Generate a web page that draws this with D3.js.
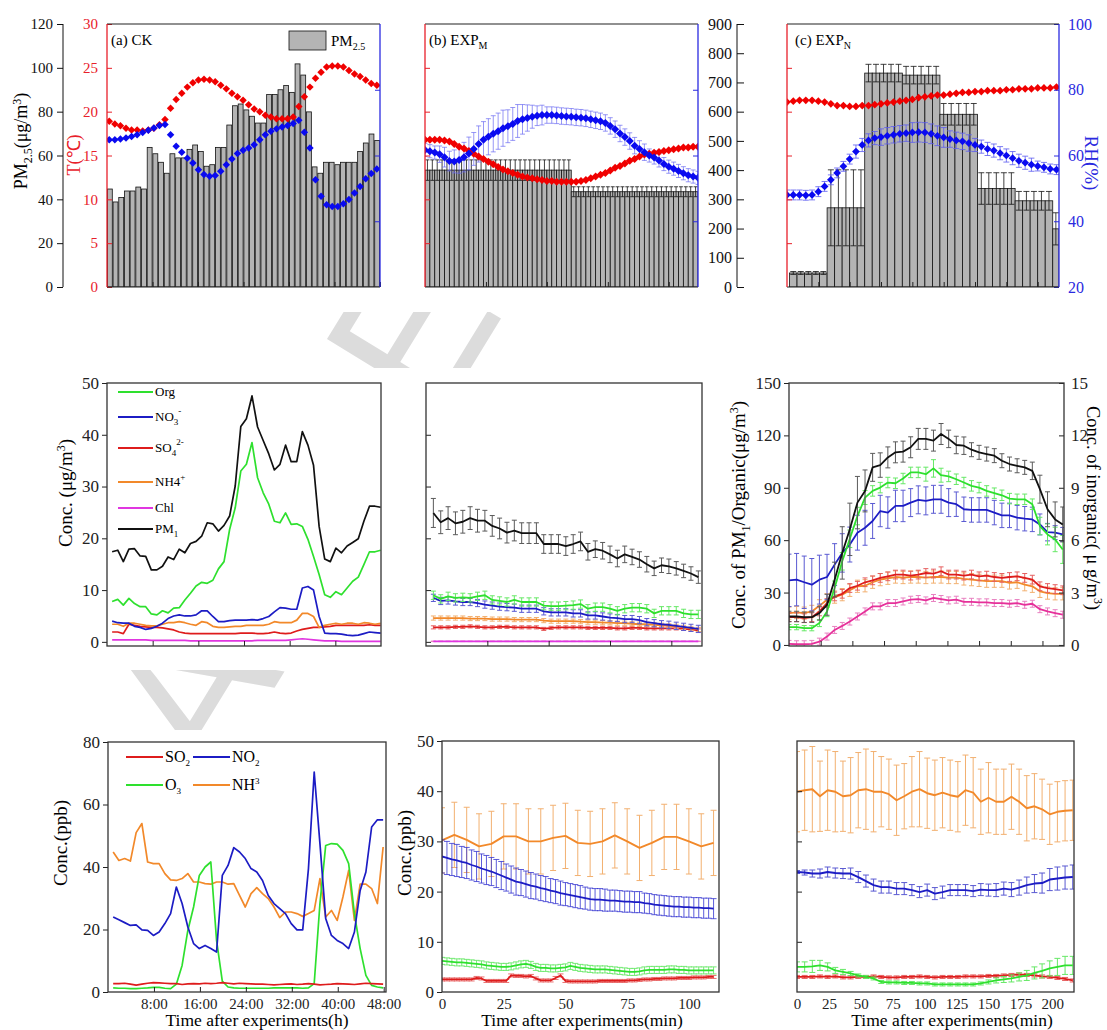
<!DOCTYPE html>
<html>
<head>
<meta charset="utf-8">
<script src="https://cdn.jsdelivr.net/npm/d3@7"></script>
<style>body{margin:0;background:#fff}</style>
</head>
<body>
<script>
// ---------------- data ----------------
// (a) CK: hourly PM2.5 bars, T and RH diamonds
const ckPM25 = [44.7,38.8,40.8,43.8,43.8,45.6,44.7,63.7,60.8,56.9,51.9,60.8,58.9,58.9,62.8,64.8,61.8,55.1,55.8,63.7,63.7,73.9,82.7,83.5,80.8,77.9,74.8,74.8,87.8,87.8,90.0,91.9,88.8,101.8,96.7,79.9,54.8,51.9,56.9,56.9,55.8,56.9,56.9,56.9,61.8,65.7,69.8,66.8];
const ckT = [18.9,18.6,18.4,18.1,17.9,17.9,17.8,17.9,18.1,18.5,19.1,20.4,21.4,22.1,22.8,23.3,23.6,23.7,23.6,23.4,23.0,22.6,22.1,21.7,21.3,20.8,20.3,20.0,19.6,19.4,19.2,19.2,19.2,19.4,20.6,21.7,22.8,23.8,24.5,25.1,25.2,25.2,25.1,24.7,24.3,24.0,23.6,23.2,23.0];
const ckRH = [64.8,64.8,65.0,65.3,65.8,66.3,67.0,67.7,68.4,69.1,69.4,66.3,62.8,61.0,59.2,57.7,55.7,54.2,53.7,53.9,55.2,57.2,58.9,60.6,61.6,62.3,63.3,64.8,66.3,67.4,68.1,68.7,69.1,69.7,70.7,67.1,62.3,52.6,47.6,45.0,44.5,44.5,45.3,46.6,48.6,50.6,52.9,54.5,55.9];
const ckMetStart = 0.4, ckMetStep = 0.98;

// (b) EXP_M: PM2.5 groups, T and RH every 2 min
const expMBarStart = [0, 60];
const expMBarEnd = [60, 112];
const expMBarValue = [400, 326];
const expMBarErr = [35, 17];
const expMStep = 2;
const expMT = [16.8,16.8,16.8,16.8,16.7,16.6,16.3,16.0,15.8,15.5,15.2,14.9,14.6,14.3,14.0,13.7,13.4,13.2,13.0,12.8,12.6,12.5,12.4,12.3,12.2,12.1,12.1,12.0,12.0,12.0,12.0,12.0,12.1,12.2,12.4,12.6,12.8,13.0,13.3,13.6,13.8,14.1,14.4,14.6,14.9,15.1,15.2,15.3,15.4,15.5,15.6,15.7,15.8,15.9,15.9,16.0,16.0];
const expMRH = [61.7,61.3,60.9,60.4,59.5,58.3,58.2,58.6,59.5,60.6,62.0,63.5,64.8,65.7,66.6,67.4,68.3,68.9,69.6,70.5,71.0,71.4,71.8,72.1,72.3,72.3,72.3,72.2,72.0,71.9,71.8,71.6,71.5,71.3,71.0,70.7,70.4,69.9,69.0,68.0,66.7,65.6,64.4,63.0,62.0,61.0,60.0,59.4,58.5,57.4,56.6,56.0,55.3,54.6,54.0,53.6,53.2];
const expMRHErr = [2,2,2,2.5,3,3,3.5,4,4.5,5,5,5.5,5.5,5.5,5.5,5.5,5.5,5,5,5,4.5,4,3.5,3,3,2.5,2.5,2.5,2.5,2.5,2.5,2.5,2.5,2.5,2.5,2.5,2.5,2.5,2.5,2.5,2.5,2.5,2.5,2.5,2.5,2.5,2,2,2,2,2,2,2,2,2,2,2];

// (c) EXP_N: PM2.5 groups, T and RH every 5 min
const expNBarStart = [2, 32, 62, 92, 122, 152, 182, 212];
const expNBarEnd = [32, 62, 92, 122, 152, 182, 212, 217];
const expNBarValue = [48, 271, 732, 725, 591, 337, 295, 199];
const expNBarErr = [5, 130, 30, 30, 37, 54, 32, 55];
const expNMetStep = 5;
const expNT = [21.1,21.2,21.3,21.3,21.3,21.2,21.1,20.9,20.7,20.7,20.6,20.6,20.7,20.7,20.8,20.9,21.0,21.1,21.2,21.3,21.4,21.6,21.7,21.8,21.9,21.9,22.0,22.1,22.2,22.2,22.3,22.3,22.4,22.4,22.4,22.5,22.5,22.6,22.6,22.6,22.7,22.7,22.7,22.8];
const expNRH = [48.0,48.0,48.0,47.9,48.0,49.0,50.6,52.6,54.7,56.7,58.9,61.2,63.2,64.6,65.3,65.6,66.0,66.3,66.6,66.8,67.0,67.1,67.0,66.6,66.0,65.5,65.0,64.6,64.3,63.8,63.2,62.7,62.0,61.5,60.7,60.0,59.2,58.4,57.8,57.2,56.8,56.4,55.9,55.7];
const expNRHErr = [1.5,1.5,1.5,1.5,1.5,1.5,1.5,1.5,1.5,1.5,1.5,2,2,2,2,2.5,2.5,2.5,2.5,2.5,3,3,3,3,3,3,2.5,2.5,2.5,2.5,2,2,2,2,2,2,2,2,2,2,1.5,1.5,1.5,1.5];

// (d) CK aerosol composition, hourly
const ckCompStart = 0.9, ckCompStep = 0.98;
const pm1CK = [17.4,17.7,15.5,17.9,18.0,16.6,16.5,13.9,13.9,14.6,16.4,15.9,17.9,17.2,19.0,19.4,20.4,23.0,22.8,21.4,22.5,24.3,30.1,41.6,43.1,47.5,41.5,38.9,36.3,33.2,34.3,38.0,34.8,34.8,40.6,38.0,34.1,22.3,16.0,15.5,18.1,17.2,18.5,19.2,19.9,23.3,26.2,26.2,26.0];
const orgCK = [7.8,8.2,7.1,8.4,7.4,6.8,6.8,5.4,5.2,6.0,5.6,6.5,6.6,8.1,9.4,10.8,11.5,11.3,11.9,14.1,15.5,21.7,25.9,33.0,34.3,38.5,31.7,28.8,26.6,23.3,23.0,24.9,22.7,22.8,22.3,19.8,16.5,13.0,9.1,8.6,9.7,9.1,10.4,11.7,12.5,14.9,17.4,17.4,17.7];
const no3CK = [4.0,3.7,3.6,3.6,3.0,2.8,2.4,2.6,3.0,3.6,4.5,5.0,5.2,5.0,5.0,5.2,6.0,6.0,4.9,3.9,3.9,4.1,4.2,4.2,4.2,4.3,4.2,4.5,4.9,5.8,6.6,6.5,6.3,6.3,10.4,10.7,10.0,4.9,1.7,1.6,1.6,1.5,1.3,1.2,1.3,1.6,1.9,1.8,1.7];
const so4CK = [1.9,1.9,1.6,3.4,3.2,3.0,2.9,2.8,2.8,2.7,2.5,2.3,1.9,1.7,1.6,1.6,1.6,1.6,1.6,1.6,1.6,1.6,1.6,1.7,1.7,1.7,1.6,1.6,1.7,1.9,1.7,1.6,1.7,2.1,2.4,2.6,2.8,2.8,2.9,3.0,3.2,3.2,3.2,3.2,3.2,3.2,3.3,3.2,3.2];
const nh4CK = [3.4,3.4,3.0,3.6,3.6,3.4,3.2,3.1,3.1,3.4,3.7,3.7,3.9,3.7,3.4,3.2,3.9,3.7,3.0,2.8,2.8,2.9,3.0,3.0,3.2,3.2,3.2,3.2,3.4,3.9,3.7,3.7,3.7,4.2,5.5,5.5,4.9,2.8,3.2,3.4,3.6,3.4,3.6,3.6,3.4,3.7,3.6,3.4,3.6];
const chlCK = [0.4,0.4,0.4,0.4,0.4,0.4,0.4,0.3,0.3,0.3,0.3,0.3,0.3,0.3,0.2,0.2,0.2,0.2,0.2,0.2,0.2,0.2,0.2,0.2,0.2,0.2,0.3,0.3,0.3,0.3,0.3,0.3,0.4,0.5,0.6,0.5,0.4,0.3,0.2,0.2,0.2,0.1,0.1,0.1,0.1,0.1,0.1,0.1,0.1];

// (e) EXP_M aerosol composition, every 3 min
const expMCompStart = 3, expMCompStep = 3;
const pm1M = [24.9,23.1,23.9,22.9,23.2,23.9,23.4,23.4,22.4,21.9,21.1,21.5,21.0,21.0,21.0,18.9,18.9,18.9,18.5,18.9,19.4,17.4,17.9,17.6,16.9,16.1,16.9,16.4,15.9,15.0,14.2,14.8,14.6,14.2,13.7,13.2,12.5];
const pm1MErr = [2.8,2.2,2.2,2.2,2.2,2.2,2.2,2.0,2.0,2.0,2.0,2.0,2.0,2.0,2.0,1.8,1.8,1.8,1.8,1.8,1.8,1.6,1.6,1.6,1.6,1.6,1.6,1.5,1.5,1.5,1.4,1.4,1.4,1.3,1.3,1.3,1.2];
const orgM = [9.0,8.3,8.8,8.5,8.6,8.5,8.8,9.0,8.1,7.9,7.7,8.1,7.7,7.7,7.7,7.0,6.9,6.9,7.0,7.1,7.3,6.4,6.7,6.7,6.4,6.0,6.4,6.6,6.6,6.4,5.5,6.0,6.0,6.0,5.5,5.3,5.3];
const no3M = [8.5,7.9,8.0,7.8,7.7,7.7,7.5,7.2,7.0,6.8,6.7,6.6,6.4,6.4,6.4,5.9,5.7,5.7,5.7,5.5,5.5,5.1,5.1,4.9,4.7,4.6,4.4,4.4,4.2,3.8,3.6,3.4,3.3,3.1,2.9,2.7,2.5];
const nh4M = [4.6,4.6,4.6,4.6,4.6,4.5,4.5,4.5,4.4,4.4,4.4,4.3,4.3,4.3,4.3,4.1,4.0,4.0,4.0,4.0,3.9,3.8,3.8,3.7,3.7,3.6,3.6,3.5,3.4,3.4,3.3,3.2,3.1,3.0,2.8,2.6,2.4];
const so4M = [2.8,2.8,2.8,2.9,2.9,3.0,2.9,2.8,2.8,2.9,2.9,2.8,2.8,2.8,2.8,2.5,2.7,2.8,2.8,2.8,2.8,2.7,2.7,2.7,2.7,2.6,2.6,2.7,2.7,2.6,2.6,2.6,2.6,2.6,2.5,2.4,2.2];
const chlM = [0.1,0.1,0.1,0.1,0.1,0.1,0.1,0.1,0.1,0.1,0.1,0.1,0.1,0.1,0.1,0.1,0.1,0.1,0.1,0.1,0.1,0.1,0.1,0.1,0.1,0.1,0.1,0.1,0.1,0.1,0.1,0.1,0.1,0.1,0.1,0.1,0.1];

// (f) EXP_N aerosol composition, every 6 min (PM1/Org left axis, inorganic right axis)
const expNCompStep = 6;
const pm1N = [16.3,16.3,15.9,15.9,18.2,23.0,37.4,52.7,66.2,81.5,88.2,101.7,103.0,107.4,110.3,110.7,113.2,118.0,118.0,117.0,120.8,118.0,114.5,114.1,111.8,110.3,109.3,108.4,105.5,103.6,102.6,101.7,99.7,89.2,77.7,71.9,69.0];
const pm1NErr = [3,3,3,3,4,6,10,15,15,15,12,8,7,6,6,6,6,6,6,6,6,5,5,5,4,4,4,4,4,4,4,4,5,8,10,10,10];
const orgN = [10.2,10.2,9.6,9.6,12.5,19.2,32.6,47.9,60.8,73.8,84.4,88.2,90.1,93.0,92.6,95.3,98.8,98.8,97.8,101.1,97.2,96.5,94.9,93.0,91.1,90.1,88.2,86.9,85.7,83.8,83.4,83.4,80.6,68.1,63.3,60.4,54.7];
const orgNErr = [1.5,1.5,1.5,1.5,2,3,4,5,5,5,4,3,3,3,3,3,3,3,4,5,4,3,3,3,3,3,3,3,3,3,3,3,3,5,6,7,8];
const no3N = [3.70,3.74,3.59,3.45,3.74,3.89,4.60,5.27,5.75,6.43,6.71,7.10,7.67,7.58,7.96,7.96,8.15,8.31,8.25,8.34,8.34,8.15,8.06,7.77,7.73,7.73,7.73,7.58,7.42,7.42,7.29,7.23,7.19,6.90,6.46,6.43,6.33];
const no3NErr = [1.5,1.5,1.5,1.5,1.4,1.3,1.2,1.1,1.0,1.0,1.0,1.0,0.9,0.9,0.9,0.9,0.8,0.8,0.8,0.8,0.8,0.8,0.7,0.7,0.7,0.7,0.7,0.7,0.7,0.7,0.7,0.7,0.7,0.6,0.5,0.4,0.4];
const so4N = [1.59,1.59,1.53,1.59,1.92,2.40,2.78,2.93,3.26,3.39,3.59,3.70,3.84,3.93,4.03,4.03,3.97,4.03,4.12,4.09,4.22,4.03,4.03,3.97,4.03,3.93,3.97,3.89,3.84,3.89,3.93,3.84,3.74,3.36,3.26,3.20,3.13];
const nh4N = [1.82,1.86,1.82,1.92,2.24,2.59,2.74,2.88,3.13,3.36,3.39,3.59,3.74,3.82,3.89,3.86,3.89,3.89,3.86,3.89,3.89,3.86,3.86,3.78,3.74,3.70,3.65,3.65,3.65,3.55,3.59,3.45,3.36,3.07,2.97,2.93,2.93];
const chlN = [0.06,0.04,0.04,0.06,0.19,0.48,0.86,1.09,1.34,1.63,1.92,2.21,2.21,2.40,2.40,2.49,2.59,2.63,2.55,2.69,2.63,2.55,2.59,2.47,2.47,2.44,2.44,2.40,2.40,2.36,2.40,2.30,2.36,2.05,1.92,1.82,1.73];

// (g) CK gases, hourly
const ckGasStart = 0.9, ckGasStep = 1;
const so2CK = [2.7,2.7,2.8,2.5,2.2,2.5,2.8,3.0,2.9,2.8,2.7,2.7,2.4,2.6,2.7,2.6,2.8,2.7,2.8,3.0,2.8,2.6,2.8,2.7,2.6,2.5,2.5,2.4,2.3,2.4,2.5,2.6,2.4,2.5,2.7,2.5,2.3,2.4,2.5,2.7,2.6,2.5,2.4,2.6,2.8,2.7,2.6,2.5];
const no2CK = [24.0,23.1,22.2,21.3,21.5,19.9,19.7,18.1,19.2,21.9,25.1,33.6,28.3,20.8,15.5,13.9,14.9,13.9,12.8,37.3,40.5,46.2,44.8,42.7,39.5,38.4,35.7,30.9,28.3,26.7,25.1,21.9,19.9,19.9,39.5,70.4,47.5,23.5,18.1,16.5,15.5,13.9,19.2,32.5,38.4,52.8,55.1,55.1];
const o3CK = [1.3,1.2,1.2,1.1,1.1,1.2,1.3,1.5,1.5,1.2,1.1,2.5,8.5,19.7,27.2,37.3,40.0,41.6,16.5,3.5,1.6,1.3,1.2,1.2,1.2,1.2,1.2,1.2,1.3,1.3,1.3,1.3,1.3,1.2,1.3,2.7,28.3,46.9,47.5,47.3,45.3,41.1,25.1,13.9,5.3,2.1,1.6,1.3];
const nh3CK = [44.8,42.1,42.7,41.9,51.0,53.9,41.6,41.1,41.1,37.9,35.9,35.7,36.3,37.9,35.2,35.2,34.7,34.5,35.2,35.2,34.5,34.7,30.9,27.2,31.5,33.4,31.5,29.9,27.2,23.8,25.6,25.6,25.1,24.2,25.1,26.1,36.3,24.0,26.1,22.9,30.4,38.9,22.9,34.5,34.5,33.1,28.3,46.4];

// (h) EXP_M gases
const nh3MStep = 5;
const nh3M = [30.2,31.3,30.3,29.0,29.5,31.0,31.0,30.0,30.0,30.7,31.1,29.7,29.5,30.0,31.2,30.0,28.7,29.7,30.9,30.9,30.0,29.0,29.7];
const nh3MErr = 6.5;
const gasMStep = 2;
const no2M = [27.0,26.7,26.4,26.2,25.9,25.7,25.3,25.0,24.6,24.3,24.0,23.6,23.2,22.8,22.4,22.0,21.8,21.5,21.2,21.0,20.7,20.5,20.2,20.0,19.7,19.5,19.3,19.1,18.9,18.7,18.5,18.4,18.4,18.3,18.2,18.2,18.1,18.0,18.0,17.9,17.9,17.7,17.6,17.4,17.3,17.2,17.1,17.0,17.0,16.9,16.9,16.8,16.8,16.7,16.7,16.6];
const no2MErr = [3.3,3.3,3.2,3.2,3.1,3.1,3.0,3.0,2.9,2.9,2.8,2.8,2.8,2.7,2.7,2.7,2.6,2.6,2.6,2.5,2.5,2.5,2.4,2.4,2.4,2.3,2.3,2.3,2.3,2.2,2.2,2.2,2.2,2.2,2.1,2.1,2.1,2.1,2.1,2.1,2.1,2.0,2.0,2.0,2.0,2.0,2.0,2.0,2.0,2.0,2.0,2.0,2.0,2.0,2.0,2.0];
const o3M = [6.2,6.1,6.0,5.9,5.9,5.8,5.7,5.6,5.5,5.3,5.2,5.1,5.0,5.0,5.1,5.3,5.5,5.6,5.4,5.0,4.8,4.8,4.7,4.7,4.8,4.9,5.2,5.0,4.8,4.7,4.6,4.5,4.5,4.5,4.4,4.3,4.2,4.1,4.0,4.0,4.1,4.3,4.4,4.4,4.4,4.4,4.5,4.5,4.4,4.4,4.3,4.3,4.3,4.3,4.3,4.3];
const o3MErr = 0.7;
const so2M = [2.5,2.5,2.5,2.5,2.5,2.5,2.5,2.8,2.7,2.2,2.2,2.2,2.2,2.2,3.3,3.2,3.2,3.1,3.2,2.7,2.3,2.3,2.3,2.8,3.3,2.2,2.1,2.1,2.1,2.1,2.1,2.1,2.2,2.2,2.2,2.2,2.2,2.2,2.3,2.3,2.4,2.5,2.5,2.6,2.6,2.7,2.7,2.7,2.8,2.8,2.8,2.9,2.9,2.9,3.0,3.0];
const so2MErr = 0.3;

// (i) EXP_N gases, every 6 min
const gasNStep = 6;
const nh3N = [39.9,40.2,40.4,39.0,40.2,39.9,39.0,39.2,40.2,40.4,39.9,39.9,39.4,38.2,39.0,39.9,40.4,39.6,39.2,39.7,39.2,38.9,40.2,39.7,37.9,38.7,37.9,37.9,38.9,37.9,36.6,37.0,36.4,35.4,35.9,36.1,36.2];
const nh3NErr = [8,8,8.5,7,8,8,7,7.5,7.5,8,8,7,7,7,6.5,7,7.5,7,7,7,7,7,7,7,6.5,7,6.5,6.5,6.5,6.5,6.5,6.5,6,6,6,6,6];
const no2N = [23.9,23.8,23.6,23.6,23.9,23.7,23.6,23.6,22.9,22.1,21.3,20.9,20.9,20.6,20.6,20.3,19.9,20.3,19.6,19.9,20.3,20.3,20.3,20.1,20.4,20.3,20.3,20.6,20.4,20.8,21.3,21.6,21.7,22.4,22.6,22.8,22.9];
const no2NErr = [0.3,0.5,0.7,0.9,1.0,1.0,1.0,1.1,1.1,1.2,1.2,1.2,1.2,1.2,1.2,1.1,1.1,1.2,1.2,1.2,1.1,1.1,1.1,1.1,1.2,1.2,1.3,1.3,1.4,1.5,1.6,1.8,2.0,2.2,2.3,2.3,2.4];
const o3N = [5.0,5.0,5.1,5.3,5.0,4.3,4.0,3.7,3.3,3.0,2.7,2.0,1.9,1.9,1.8,1.8,1.7,1.7,1.5,1.5,1.5,1.5,1.5,1.5,1.7,2.0,2.3,2.5,2.7,3.0,3.3,3.8,4.2,4.7,5.0,5.3,5.3];
const o3NErr = [1.0,1.0,1.2,1.0,0.8,0.6,0.5,0.4,0.3,0.3,0.3,0.3,0.3,0.3,0.3,0.3,0.3,0.3,0.3,0.3,0.3,0.3,0.3,0.3,0.3,0.4,0.5,0.6,0.7,0.8,1.0,1.2,1.4,1.5,1.7,1.8,1.8];
const so2N = [3.0,3.0,3.0,3.1,3.0,3.1,2.9,2.9,3.0,3.0,3.1,3.0,2.9,2.9,3.0,3.0,3.1,3.0,2.9,3.0,3.0,3.0,3.1,3.1,3.1,3.2,3.2,3.3,3.4,3.5,3.4,3.3,3.1,3.0,2.8,2.6,2.3];

// ticks
const pmTicksA = [0,20,40,60,80,100,120];
const tTicks = [0,5,10,15,20,25,30];
const rhTicks = [20,40,60,80,100];
const pmTicksBC = [0,100,200,300,400,500,600,700,800,900];
const hourTicks = [8,16,24,32,40,48];
const hourLabels = ["8:00","16:00","24:00","32:00","40:00","48:00"];
const minTicksM = [0,25,50,75,100];
const minTicksN = [0,25,50,75,100,125,150,175,200];
const concTicks = [0,10,20,30,40,50];
const ppbTicksCK = [0,20,40,60,80];
const pm1TicksN = [0,30,60,90,120,150];
const inorgTicksN = [0,3,6,9,12,15];

// ---------------- drawing ----------------
const F = "'Liberation Serif','Times New Roman',Times,serif";
const RED = "#f00000", BLUE = "#0a0af0", AXRED = "#e8202a", AXBLUE = "#2a2ae0";
const C = {org:"#2ee02e", no3:"#1c1cc4", so4:"#de1c1c", nh4:"#f2892a", chl:"#e036e0", chlN:"#e6309a", pm1:"#111111"};
const EC = {org:"#66e866", no3:"#5a5ad2", so4:"#e66060", nh4:"#f2b070", chl:"#e880c0", pm1:"#5a5a5a"};

const svg = d3.select("body").append("svg").attr("width", 1107).attr("height", 1030)
  .attr("font-family", F);

// watermark behind the panels, only the gaps between rows show it
svg.append("text").attr("transform", "translate(215,785) rotate(-58.5)")
  .attr("font-family", "'Liberation Sans',Arial,sans-serif").attr("font-size", 200)
  .attr("fill", "#dcdcdc").text("ACCE");
[[0,312],[368,302],[730,300]].forEach(r => {
  svg.append("rect").attr("x", 0).attr("y", r[0]).attr("width", 1107).attr("height", r[1]).attr("fill", "#fff");
});

const boxes = {
  a:{x:107,y:24,w:273,h:263}, b:{x:425,y:24,w:273,h:263}, c:{x:787,y:24,w:272,h:263},
  d:{x:107,y:383,w:274,h:263}, e:{x:426,y:383,w:276,h:263}, f:{x:789,y:383,w:275,h:263},
  g:{x:108,y:742,w:278,h:250}, h:{x:442,y:741,w:277,h:251}, i:{x:797,y:741,w:277,h:251}
};

function panel(key) {
  const b = boxes[key];
  const g = svg.append("g").attr("transform", `translate(${b.x},${b.y})`);
  g.append("clipPath").attr("id", "clip-" + key).append("rect").attr("width", b.w).attr("height", b.h);
  const plot = g.append("g").attr("clip-path", `url(#clip-${key})`);
  return {g, plot, b};
}

function styleAxis(sel, color, size) {
  sel.attr("font-family", F).attr("font-size", size);
  sel.select(".domain").remove();
  sel.selectAll(".tick line").attr("stroke", color).attr("stroke-width", 1);
  sel.selectAll(".tick text").attr("fill", color);
  return sel;
}

function diamonds(g, xs, ys, t0, step, vals, color, size) {
  g.append("g").selectAll("path").data(vals).join("path")
    .attr("d", d3.symbol(d3.symbolSquare, size))
    .attr("transform", (d, i) => `translate(${xs(t0 + i * step)},${ys(d)}) rotate(45)`)
    .attr("fill", color);
}

function errorBars(g, xs, ys, t0, step, vals, errs, color, cap, width) {
  const eg = g.append("g").attr("stroke", color).attr("stroke-width", width || 0.8).attr("fill", "none");
  vals.forEach((v, i) => {
    const e = Array.isArray(errs) ? errs[i] : errs;
    const cx = xs(t0 + i * step), y1 = ys(v + e), y2 = ys(v - e);
    eg.append("line").attr("x1", cx).attr("x2", cx).attr("y1", y1).attr("y2", y2);
    eg.append("line").attr("x1", cx - cap).attr("x2", cx + cap).attr("y1", y1).attr("y2", y1);
    eg.append("line").attr("x1", cx - cap).attr("x2", cx + cap).attr("y1", y2).attr("y2", y2);
  });
}

function seriesLine(g, xs, ys, t0, step, vals, color, width) {
  g.append("path").datum(vals).attr("fill", "none").attr("stroke", color)
    .attr("stroke-width", width || 1.6).attr("stroke-linejoin", "round")
    .attr("d", d3.line().x((d, i) => xs(t0 + i * step)).y(d => ys(d)));
}

function groupBars(g, xs, ys, starts, ends, values, errs, sub, cap) {
  const base = ys.range()[0];
  starts.forEach((s, k) => {
    for (let t = s; t < ends[k] - 0.01; t += sub) {
      const w = Math.min(sub, ends[k] - t);
      const x0 = xs(t), x1 = xs(t + w), cx = (x0 + x1) / 2;
      g.append("rect").attr("x", x0).attr("width", x1 - x0).attr("y", ys(values[k]))
        .attr("height", base - ys(values[k])).attr("fill", "#b4b4b4").attr("stroke", "#111").attr("stroke-width", 0.8);
      const y1 = ys(values[k] + errs[k]), y2 = ys(values[k] - errs[k]);
      g.append("line").attr("x1", cx).attr("x2", cx).attr("y1", y1).attr("y2", y2).attr("stroke", "#111").attr("stroke-width", 0.8);
      [y1, y2].forEach(y => g.append("line").attr("x1", cx - cap).attr("x2", cx + cap).attr("y1", y).attr("y2", y)
        .attr("stroke", "#111").attr("stroke-width", 0.8));
    }
  });
}

function topFrame(g, b) {
  g.append("line").attr("x1", 0).attr("x2", b.w).attr("y1", 0).attr("y2", 0).attr("stroke", "#222").attr("stroke-width", 1.2);
  g.append("line").attr("x1", 0).attr("x2", b.w).attr("y1", b.h).attr("y2", b.h).attr("stroke", "#222").attr("stroke-width", 1.2);
  g.append("line").attr("x1", 0).attr("x2", 0).attr("y1", 0).attr("y2", b.h).attr("stroke", AXRED).attr("stroke-width", 1.3);
  g.append("line").attr("x1", b.w).attr("x2", b.w).attr("y1", 0).attr("y2", b.h).attr("stroke", AXBLUE).attr("stroke-width", 1.3);
}

function boxFrame(g, b) {
  g.append("rect").attr("width", b.w).attr("height", b.h).attr("fill", "none").attr("stroke", "#333").attr("stroke-width", 1.3);
}

function innerBottomTicks(g, b, xs, ticks) {
  styleAxis(g.append("g").attr("transform", `translate(0,${b.h})`)
    .call(d3.axisBottom(xs).tickValues(ticks).tickSizeInner(-5).tickSizeOuter(0).tickFormat("")), "#222", 10);
}

function rich(sel, parts) {
  // parts: [text, shift(px), size]
  parts.forEach(p => {
    const ts = sel.append("tspan").text(p[0]);
    if (p[1]) ts.attr("dy", p[1]);
    if (p[2]) ts.attr("font-size", p[2]);
  });
  return sel;
}

// ---------- (a) CK ----------
{
  const {g, plot, b} = panel("a");
  const x = d3.scaleLinear().domain([0, 48]).range([0, b.w]);
  const pm = d3.scaleLinear().domain([0, 120]).range([b.h, 0]);
  const t = d3.scaleLinear().domain([0, 30]).range([b.h, 0]);
  const rh = d3.scaleLinear().domain([20, 100]).range([b.h, 0]);
  plot.selectAll("rect").data(ckPM25).join("rect")
    .attr("x", (d, i) => x(i) + 0.4).attr("width", x(1) - x(0) - 0.8)
    .attr("y", d => pm(d)).attr("height", d => b.h - pm(d))
    .attr("fill", "#b4b4b4").attr("stroke", "#111").attr("stroke-width", 0.8);
  diamonds(plot, x, t, ckMetStart, ckMetStep, ckT, RED, 28);
  diamonds(plot, x, rh, ckMetStart, ckMetStep, ckRH, BLUE, 28);

  const pmAx = g.append("g").attr("transform", "translate(-44,0)")
    .call(d3.axisLeft(pm).tickValues(pmTicksA).tickSize(6).tickPadding(4));
  styleAxis(pmAx, "#111", 15);
  pmAx.append("line").attr("y1", 0).attr("y2", b.h).attr("stroke", "#111");
  styleAxis(g.append("g").call(d3.axisLeft(t).tickValues(tTicks).tickSizeInner(-5).tickSizeOuter(0).tickPadding(9)), AXRED, 15);
  styleAxis(g.append("g").attr("transform", `translate(${b.w},0)`)
    .call(d3.axisRight(rh).tickValues([40, 60, 80]).tickSizeInner(-5).tickSizeOuter(0).tickFormat("")), AXBLUE, 10);
  innerBottomTicks(g, b, x, hourTicks);
  topFrame(g, b);

  g.append("text").attr("x", 4).attr("y", 21).attr("font-size", 15).text("(a) CK");
  g.append("rect").attr("x", 182).attr("y", 7).attr("width", 37).attr("height", 19)
    .attr("fill", "#b4b4b4").attr("stroke", "#111").attr("stroke-width", 0.8);
  rich(g.append("text").attr("x", 224).attr("y", 22).attr("font-size", 15), [["PM"], ["2.5", 4, 10]]);

  rich(svg.append("text").attr("transform", "translate(27,141) rotate(-90)").attr("text-anchor", "middle").attr("font-size", 18),
    [["PM"], ["2.5", 5, 12], ["(μg/m", -5, 18], ["3", -6, 12], [")", 6, 18]]);
  svg.append("text").attr("transform", "translate(80,155) rotate(-90)").attr("text-anchor", "middle")
    .attr("font-size", 18).attr("fill", AXRED).text("T(℃)");
}

// ---------- (b) EXP_M ----------
{
  const {g, plot, b} = panel("b");
  const x = d3.scaleLinear().domain([0, 112]).range([0, b.w]);
  const pm = d3.scaleLinear().domain([0, 900]).range([b.h, 0]);
  const t = d3.scaleLinear().domain([0, 30]).range([b.h, 0]);
  const rh = d3.scaleLinear().domain([20, 100]).range([b.h, 0]);
  groupBars(plot, x, pm, expMBarStart, expMBarEnd, expMBarValue, expMBarErr, expMStep, 2);
  errorBars(plot, x, rh, 0, expMStep, expMRH, expMRHErr, "#6a6af2", 2.5, 0.7);
  diamonds(plot, x, t, 0, expMStep, expMT, RED, 32);
  diamonds(plot, x, rh, 0, expMStep, expMRH, BLUE, 32);

  styleAxis(g.append("g").call(d3.axisLeft(t).tickValues([5, 10, 15, 20, 25]).tickSizeInner(-5).tickSizeOuter(0).tickFormat("")), AXRED, 10);
  styleAxis(g.append("g").attr("transform", `translate(${b.w},0)`)
    .call(d3.axisRight(rh).tickValues([40, 60, 80]).tickSizeInner(-5).tickSizeOuter(0).tickFormat("")), AXBLUE, 10);
  innerBottomTicks(g, b, x, [25, 50, 75, 100]);
  topFrame(g, b);

  const pmAx = g.append("g").attr("transform", "translate(312,0)")
    .call(d3.axisLeft(pm).tickValues(pmTicksBC).tickSizeInner(-7).tickSizeOuter(0).tickPadding(5));
  styleAxis(pmAx, "#111", 16);
  pmAx.append("line").attr("y1", 0).attr("y2", b.h).attr("stroke", "#111");

  rich(g.append("text").attr("x", 4).attr("y", 21).attr("font-size", 15), [["(b) EXP"], ["M", 4, 10]]);
}

// ---------- (c) EXP_N ----------
{
  const {g, plot, b} = panel("c");
  const x = d3.scaleLinear().domain([0, 217]).range([0, b.w]);
  const pm = d3.scaleLinear().domain([0, 900]).range([b.h, 0]);
  const t = d3.scaleLinear().domain([0, 30]).range([b.h, 0]);
  const rh = d3.scaleLinear().domain([20, 100]).range([b.h, 0]);
  groupBars(plot, x, pm, expNBarStart, expNBarEnd, expNBarValue, expNBarErr, 6, 3);
  errorBars(plot, x, rh, 0, expNMetStep, expNRH, expNRHErr, "#5a5af0", 3, 0.8);
  diamonds(plot, x, t, 0, expNMetStep, expNT, RED, 30);
  diamonds(plot, x, rh, 0, expNMetStep, expNRH, BLUE, 30);

  styleAxis(g.append("g").call(d3.axisLeft(t).tickValues([5, 10, 15, 20, 25]).tickSizeInner(-5).tickSizeOuter(0).tickFormat("")), AXRED, 10);
  styleAxis(g.append("g").attr("transform", `translate(${b.w},0)`)
    .call(d3.axisRight(rh).tickValues(rhTicks).tickSizeInner(-5).tickSizeOuter(0).tickPadding(9)), AXBLUE, 16);
  innerBottomTicks(g, b, x, [25, 50, 75, 100, 125, 150, 175, 200]);
  topFrame(g, b);

  rich(g.append("text").attr("x", 8).attr("y", 21).attr("font-size", 15), [["(c) EXP"], ["N", 4, 10]]);
  svg.append("text").attr("transform", "translate(1085,163) rotate(90)").attr("text-anchor", "middle")
    .attr("font-size", 19).attr("fill", AXBLUE).text("RH(%)");
}

// ---------- (d) CK composition ----------
{
  const {g, plot, b} = panel("d");
  const x = d3.scaleLinear().domain([0, 48]).range([0, b.w]);
  const y = d3.scaleLinear().domain([-0.8, 50]).range([b.h, 0]);
  const s = [[chlCK, C.chl], [so4CK, C.so4], [nh4CK, C.nh4], [no3CK, C.no3], [orgCK, C.org], [pm1CK, C.pm1]];
  s.forEach(p => seriesLine(plot, x, y, ckCompStart, ckCompStep, p[0], p[1], 1.7));
  styleAxis(g.append("g").call(d3.axisLeft(y).tickValues(concTicks).tickSizeInner(5).tickSizeOuter(0).tickPadding(3)), "#222", 17);
  innerBottomTicks(g, b, x, [8, 16, 24, 32, 40]);
  boxFrame(g, b);

  const leg = [
    [9, C.org, [["Org"]]],
    [34, C.no3, [["NO"], ["3", 4, 9], ["-", -11, 9]]],
    [65, C.so4, [["SO"], ["4", 4, 9], ["2-", -11, 9]]],
    [99, C.nh4, [["NH4"], ["+", -6, 9]]],
    [125, C.chl, [["Chl"]]],
    [146, C.pm1, [["PM"], ["1", 4, 9]]]
  ];
  leg.forEach(l => {
    g.append("line").attr("x1", 11).attr("x2", 46).attr("y1", l[0]).attr("y2", l[0]).attr("stroke", l[1]).attr("stroke-width", 1.8);
    rich(g.append("text").attr("x", 48).attr("y", l[0] + 4).attr("font-size", 13), l[2]);
  });

  rich(svg.append("text").attr("transform", "translate(72,493) rotate(-90)").attr("text-anchor", "middle").attr("font-size", 19),
    [["Conc. (μg/m"], ["3", -7, 12], [")", 7, 19]]);
}

// ---------- (e) EXP_M composition ----------
{
  const {g, plot, b} = panel("e");
  const x = d3.scaleLinear().domain([0, 112.5]).range([0, b.w]);
  const y = d3.scaleLinear().domain([-0.8, 50]).range([b.h, 0]);
  const s = [[chlM, 0.05, C.chl, EC.chl], [so4M, 0.3, C.so4, EC.so4], [nh4M, 0.4, C.nh4, EC.nh4],
             [no3M, 0.7, C.no3, EC.no3], [orgM, 0.8, C.org, EC.org], [pm1M, pm1MErr, C.pm1, EC.pm1]];
  s.forEach(p => {
    errorBars(plot, x, y, expMCompStart, expMCompStep, p[0], p[1], p[3], 2.5, 1);
    seriesLine(plot, x, y, expMCompStart, expMCompStep, p[0], p[2], 1.8);
  });
  styleAxis(g.append("g").call(d3.axisLeft(y).tickValues([0, 10, 20, 30, 40]).tickSizeInner(-5).tickSizeOuter(0).tickFormat("")), "#222", 10);
  innerBottomTicks(g, b, x, [25, 50, 75, 100]);
  boxFrame(g, b);
}

// ---------- (f) EXP_N composition ----------
{
  const {g, plot, b} = panel("f");
  const x = d3.scaleLinear().domain([0, 217]).range([0, b.w]);
  const yL = d3.scaleLinear().domain([-0.6, 150]).range([b.h, 0]);
  const yR = d3.scaleLinear().domain([-0.06, 15]).range([b.h, 0]);
  const inorg = [[chlN, 0.2, C.chlN, EC.chl], [nh4N, 0.35, C.nh4, EC.nh4], [so4N, 0.25, C.so4, EC.so4], [no3N, no3NErr, C.no3, EC.no3]];
  inorg.forEach(p => {
    errorBars(plot, x, yR, 0, expNCompStep, p[0], p[1], p[3], 2.5, 1);
    seriesLine(plot, x, yR, 0, expNCompStep, p[0], p[2], 1.8);
  });
  [[orgN, orgNErr, C.org, EC.org], [pm1N, pm1NErr, C.pm1, EC.pm1]].forEach(p => {
    errorBars(plot, x, yL, 0, expNCompStep, p[0], p[1], p[3], 2.5, 1);
    seriesLine(plot, x, yL, 0, expNCompStep, p[0], p[2], 1.8);
  });
  styleAxis(g.append("g").call(d3.axisLeft(yL).tickValues(pm1TicksN).tickSizeInner(5).tickSizeOuter(0).tickPadding(3)), "#222", 17);
  styleAxis(g.append("g").attr("transform", `translate(${b.w},0)`)
    .call(d3.axisRight(yR).tickValues(inorgTicksN).tickSizeInner(-5).tickSizeOuter(0).tickPadding(7)), "#222", 17);
  innerBottomTicks(g, b, x, [25, 50, 75, 100, 125, 150, 175, 200]);
  boxFrame(g, b);

  rich(svg.append("text").attr("transform", "translate(745,515) rotate(-90)").attr("text-anchor", "middle").attr("font-size", 19),
    [["Conc. of PM"], ["1", 5, 12], ["/Organic(μg/m", -5, 19], ["3", -7, 12], [")", 7, 19]]);
  rich(svg.append("text").attr("transform", "translate(1087,508) rotate(90)").attr("text-anchor", "middle").attr("font-size", 18.5),
    [["Conc. of inorganic( μ g/m"], ["3", -7, 12], [")", 7, 18.5]]);
}

// ---------- (g) CK gases ----------
{
  const {g, plot, b} = panel("g");
  const x = d3.scaleLinear().domain([0, 48.4]).range([0, b.w]);
  const y = d3.scaleLinear().domain([0, 80]).range([b.h, 0]);
  [[nh3CK, C.nh4], [o3CK, C.org], [no2CK, C.no3], [so2CK, C.so4]]
    .forEach(p => seriesLine(plot, x, y, ckGasStart, ckGasStep, p[0], p[1], 1.7));
  styleAxis(g.append("g").call(d3.axisLeft(y).tickValues(ppbTicksCK).tickSizeInner(5).tickSizeOuter(0).tickPadding(3)), "#222", 17);
  const xa = g.append("g").attr("transform", `translate(0,${b.h})`)
    .call(d3.axisBottom(x).tickValues(hourTicks).tickFormat((d, i) => hourLabels[i]).tickSizeInner(-5).tickSizeOuter(0).tickPadding(6));
  styleAxis(xa, "#222", 15);
  boxFrame(g, b);

  const leg = [
    [15, 18, C.so4, [["SO"], ["2", 4, 9]]], [15, 85, C.no3, [["NO"], ["2", 4, 9]]],
    [43, 18, C.org, [["O"], ["3", 4, 9]]], [43, 85, C.nh4, [["NH"], ["3", -6, 9]]]
  ];
  leg.forEach(l => {
    g.append("line").attr("x1", l[1]).attr("x2", l[1] + 37).attr("y1", l[0]).attr("y2", l[0]).attr("stroke", l[2]).attr("stroke-width", 1.8);
    rich(g.append("text").attr("x", l[1] + 39).attr("y", l[0] + 5).attr("font-size", 16), l[3]);
  });

  svg.append("text").attr("transform", "translate(67,843) rotate(-90)").attr("text-anchor", "middle").attr("font-size", 19).text("Conc.(ppb)");
  svg.append("text").attr("x", 257).attr("y", 1026).attr("text-anchor", "middle").attr("font-size", 17.5).text("Time after experiments(h)");
}

// ---------- (h) EXP_M gases ----------
{
  const {g, plot, b} = panel("h");
  const x = d3.scaleLinear().domain([0, 112.2]).range([0, b.w]);
  const y = d3.scaleLinear().domain([0, 50]).range([b.h, 0]);
  errorBars(plot, x, y, 0, nh3MStep, nh3M, nh3MErr, EC.nh4, 3, 1);
  seriesLine(plot, x, y, 0, nh3MStep, nh3M, C.nh4, 1.9);
  errorBars(plot, x, y, 0, gasMStep, no2M, no2MErr, "#3434d0", 3, 0.8);
  seriesLine(plot, x, y, 0, gasMStep, no2M, C.no3, 1.8);
  errorBars(plot, x, y, 0, gasMStep, o3M, o3MErr, EC.org, 3, 0.9);
  seriesLine(plot, x, y, 0, gasMStep, o3M, C.org, 1.8);
  errorBars(plot, x, y, 0, gasMStep, so2M, so2MErr, EC.so4, 3, 0.9);
  seriesLine(plot, x, y, 0, gasMStep, so2M, C.so4, 1.8);
  styleAxis(g.append("g").call(d3.axisLeft(y).tickValues(concTicks).tickSizeInner(5).tickSizeOuter(0).tickPadding(3)), "#222", 17);
  const xa = g.append("g").attr("transform", `translate(0,${b.h})`)
    .call(d3.axisBottom(x).tickValues(minTicksM).tickSizeInner(0).tickSizeOuter(0).tickPadding(6));
  styleAxis(xa, "#222", 15);
  boxFrame(g, b);

  svg.append("text").attr("transform", "translate(411,853) rotate(-90)").attr("text-anchor", "middle").attr("font-size", 19).text("Conc.(ppb)");
  svg.append("text").attr("x", 582).attr("y", 1026).attr("text-anchor", "middle").attr("font-size", 17.5).text("Time after experiments(min)");
}

// ---------- (i) EXP_N gases ----------
{
  const {g, plot, b} = panel("i");
  const x = d3.scaleLinear().domain([0, 217]).range([0, b.w]);
  const y = d3.scaleLinear().domain([0, 50]).range([b.h, 0]);
  errorBars(plot, x, y, 0, gasNStep, nh3N, nh3NErr, EC.nh4, 3, 1);
  seriesLine(plot, x, y, 0, gasNStep, nh3N, C.nh4, 1.9);
  errorBars(plot, x, y, 0, gasNStep, no2N, no2NErr, EC.no3, 3, 1);
  seriesLine(plot, x, y, 0, gasNStep, no2N, C.no3, 1.9);
  errorBars(plot, x, y, 0, gasNStep, so2N, 0.3, EC.so4, 3, 1);
  seriesLine(plot, x, y, 0, gasNStep, so2N, C.so4, 1.8);
  errorBars(plot, x, y, 0, gasNStep, o3N, o3NErr, EC.org, 3, 1);
  seriesLine(plot, x, y, 0, gasNStep, o3N, C.org, 1.8);
  styleAxis(g.append("g").call(d3.axisLeft(y).tickValues([10, 20, 30, 40]).tickSizeInner(-5).tickSizeOuter(0).tickFormat("")), "#222", 10);
  const xa = g.append("g").attr("transform", `translate(0,${b.h})`)
    .call(d3.axisBottom(x).tickValues(minTicksN).tickSizeInner(0).tickSizeOuter(0).tickPadding(6));
  styleAxis(xa, "#222", 15);
  boxFrame(g, b);

  svg.append("text").attr("x", 952).attr("y", 1026).attr("text-anchor", "middle").attr("font-size", 17.5).text("Time after experiments(min)");
}
</script>
</body>
</html>
